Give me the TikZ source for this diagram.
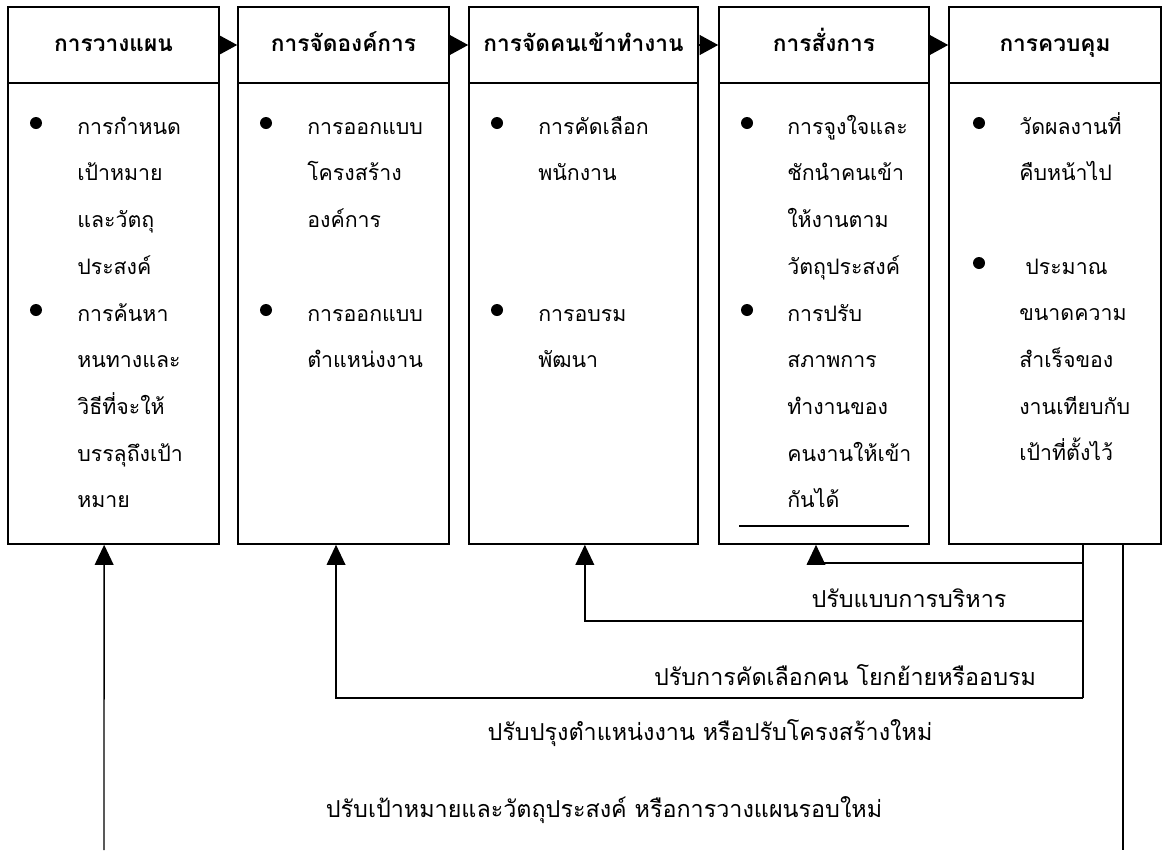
\documentclass[tikz,border=0pt]{standalone}
\usepackage{fontspec}
\usetikzlibrary{arrows.meta}
\newfontfamily\thaifont[Script=Thai]{Loma}
\newcommand\tstrut{\rule{0pt}{18pt}}
\tikzset{
  head/.style={draw, line width=1.2pt, minimum height=57pt, inner sep=0pt, text height=14pt, text depth=5pt, font=\thaifont\bfseries\fontsize{17}{24}\selectfont},
  body/.style={draw, line width=1.2pt, minimum height=345.75pt, inner sep=0pt},
  dot/.style={circle, fill, inner sep=0pt, minimum size=9pt},
  item/.style={anchor=north west, inner sep=0pt, align=left, font=\thaifont\fontsize{16}{35}\selectfont},
  note/.style={font=\thaifont\fontsize{17.5}{24}\selectfont},
  flow/.style={-{Triangle[length=14pt,width=15pt]}, line width=1pt},
  fb/.style={-{Triangle[length=15pt,width=14pt]}, line width=1pt}
}
\begin{document}
\begin{tikzpicture}[x=0.75pt,y=-0.75pt]
\useasboundingbox (0,0) rectangle (1164,850);
\node[head, minimum width=158.25pt](planhead) at (113.5,45){การวางแผน};
\node[body, minimum width=158.25pt](planbody) at (113.5,313.5){};
\node[head, minimum width=158.25pt](orghead) at (343.5,45){การจัดองค์การ};
\node[body, minimum width=158.25pt](orgbody) at (343.5,313.5){};
\node[head, minimum width=171.75pt](staffhead) at (583.5,45){การจัดคนเข้าทำงาน};
\node[body, minimum width=171.75pt](staffbody) at (583.5,313.5){};
\node[head, minimum width=157.5pt](dirhead) at (824,45){การสั่งการ};
\node[body, minimum width=157.5pt](dirbody) at (824,313.5){};
\node[head, minimum width=159pt](ctlhead) at (1055,45){การควบคุม};
\node[body, minimum width=159pt](ctlbody) at (1055,313.5){};
\draw[flow] (planhead) -- (orghead);
\draw[flow] (orghead) -- (staffhead);
\draw[flow] (staffhead) -- (dirhead);
\draw[flow] (dirhead) -- (ctlhead);
\node[dot](pd1) at (36,123){};
\node[item](pt1) at (77,110){\tstrut การกำหนด\\เป้าหมาย\\และวัตถุ\\ประสงค์};
\node[dot](pd2) at (36,310){};
\node[item](pt2) at (77,297){\tstrut การค้นหา\\หนทางและ\\วิธีที่จะให้\\บรรลุถึงเป้า\\หมาย};
\node[dot](od1) at (266,123){};
\node[item](ot1) at (307,110){\tstrut การออกแบบ\\โครงสร้าง\\องค์การ};
\node[dot](od2) at (266,310){};
\node[item](ot2) at (307,297){\tstrut การออกแบบ\\ตำแหน่งงาน};
\node[dot](sd1) at (497,123){};
\node[item](st1) at (538,110){\tstrut การคัดเลือก\\พนักงาน};
\node[dot](sd2) at (497,310){};
\node[item](st2) at (538,297){\tstrut การอบรม\\พัฒนา};
\node[dot](dd1) at (747,123){};
\node[item](dt1) at (787,110){\tstrut การจูงใจและ\\ชักนำคนเข้า\\ให้งานตาม\\วัตถุประสงค์};
\node[dot](dd2) at (747,310){};
\node[item](dt2) at (787,297){\tstrut การปรับ\\สภาพการ\\ทำงานของ\\คนงานให้เข้า\\กันได้};
\draw[line width=1pt] (739,526) -- (909,526);
\node[dot](cd1) at (979,123){};
\node[item](ct1) at (1019,110){\tstrut วัดผลงานที่\\คืบหน้าไป};
\node[dot](cd2) at (979,263){};
\node[item](ct2) at (1019,250){\tstrut\hspace*{4.5pt}ประมาณ\\ขนาดความ\\สำเร็จของ\\งานเทียบกับ\\เป้าที่ตั้งไว้};
\coordinate (r4) at (1083,563);
\coordinate (r3) at (1083,621);
\coordinate (r2) at (1083,698);
\coordinate (endA) at (1123,850);
\coordinate (endB) at (104,850);
\draw[line width=1pt] (ctlbody.south -| r2) -- (r2);
\draw[fb] (r4) -| ([xshift=-6pt]dirbody.south);
\draw[fb] (r3) -| ([xshift=1pt]staffbody.south);
\draw[fb] (r2) -| ([xshift=-5.6pt]orgbody.south);
\draw[fb] (endB) -- ([xshift=-7pt]planbody.south);
\draw[line width=1pt] (ctlbody.south -| endA) -- (endA);
\node[note](l4) at (909,598){ปรับแบบการบริหาร};
\node[note](l3) at (845,675){ปรับการคัดเลือกคน โยกย้ายหรืออบรม};
\node[note](l2) at (710,733){ปรับปรุงตำแหน่งงาน หรือปรับโครงสร้างใหม่};
\node[note](l1) at (604,810){ปรับเป้าหมายและวัตถุประสงค์ หรือการวางแผนรอบใหม่};
\end{tikzpicture}
\end{document}
